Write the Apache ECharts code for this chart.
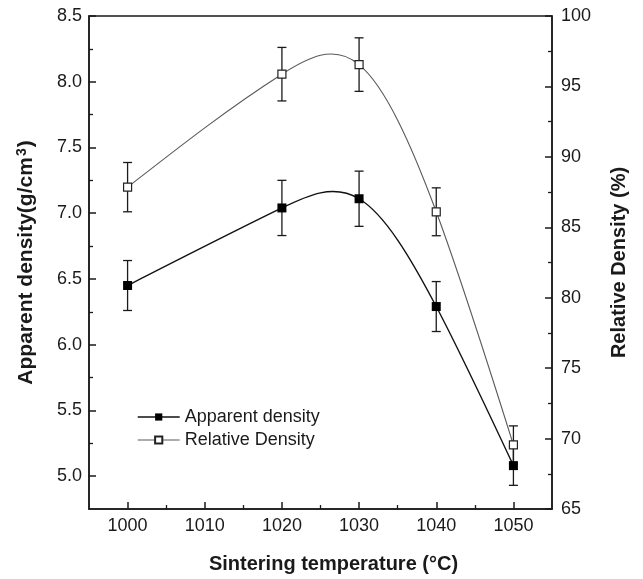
<!DOCTYPE html>
<html>
<head>
<meta charset="utf-8">
<script src="https://cdn.jsdelivr.net/npm/echarts@6/dist/echarts.min.js"></script>
<style>html,body{margin:0;padding:0;background:#fff;}#c{width:643px;height:579px;}</style>
</head>
<body>
<div id="c"></div>
<script>
// ---- data ----
var temps = [1000, 1020, 1030, 1040, 1050];
var apparent = [6.45, 7.04, 7.11, 6.29, 5.08];
var apparentErr = [0.19, 0.21, 0.21, 0.19, 0.15];
var relative = [87.85, 95.87, 96.55, 86.1, 69.55];
var relativeErr = [1.75, 1.9, 1.9, 1.7, 1.35];
var xTicks = [1000, 1010, 1020, 1030, 1040, 1050];
var xMinor = [1005, 1015, 1025, 1035, 1045];
var leftTicks = [5.0, 5.5, 6.0, 6.5, 7.0, 7.5, 8.0, 8.5];
var leftMinor = [5.25, 5.75, 6.25, 6.75, 7.25, 7.75, 8.25];
var rightTicks = [65, 70, 75, 80, 85, 90, 95, 100];
var rightMinor = [67.5, 72.5, 77.5, 82.5, 87.5, 92.5, 97.5];

var FONT = '"Liberation Sans", Arial, Helvetica, sans-serif';
var INK = '#1a1a1a';

function pairs(xs, ys) { return xs.map(function (x, i) { return [x, ys[i]]; }); }
function errData(xs, ys, es) { return xs.map(function (x, i) { return [x, ys[i] - es[i], ys[i] + es[i]]; }); }

// natural cubic spline slopes at the data nodes (used only to shape the drawn curve)
function splineSlopes(xs, ys) {
  var n = xs.length, h = [], d = [], i;
  for (i = 0; i < n - 1; i++) { h[i] = xs[i + 1] - xs[i]; d[i] = (ys[i + 1] - ys[i]) / h[i]; }
  var M = new Array(n).fill(0);
  var a = [], b = [], c = [], r = [];
  for (i = 1; i < n - 1; i++) {
    a[i] = h[i - 1]; b[i] = 2 * (h[i - 1] + h[i]); c[i] = h[i]; r[i] = 6 * (d[i] - d[i - 1]);
  }
  // Thomas algorithm
  var cp = [], rp = [];
  for (i = 1; i < n - 1; i++) {
    var den = b[i] - (i > 1 ? a[i] * cp[i - 1] : 0);
    cp[i] = c[i] / den;
    rp[i] = (r[i] - (i > 1 ? a[i] * rp[i - 1] : 0)) / den;
  }
  for (i = n - 2; i >= 1; i--) { M[i] = rp[i] - (i < n - 2 ? cp[i] * M[i + 1] : 0); }
  var m = [];
  for (i = 0; i < n - 1; i++) { m[i] = d[i] - h[i] * (2 * M[i] + M[i + 1]) / 6; }
  m[n - 1] = d[n - 2] + h[n - 2] * (M[n - 2] + 2 * M[n - 1]) / 6;
  return m;
}

function curveRenderer(xs, ys, color, width) {
  var m = splineSlopes(xs, ys);
  return function (params, api) {
    var i = params.dataIndex;
    if (i >= xs.length - 1) return null;
    var h = xs[i + 1] - xs[i];
    var p0 = api.coord([xs[i], ys[i]]);
    var p3 = api.coord([xs[i + 1], ys[i + 1]]);
    var c1 = api.coord([xs[i] + h / 3, ys[i] + m[i] * h / 3]);
    var c2 = api.coord([xs[i + 1] - h / 3, ys[i + 1] - m[i + 1] * h / 3]);
    return {
      type: 'bezierCurve',
      shape: { x1: p0[0], y1: p0[1], x2: p3[0], y2: p3[1], cpx1: c1[0], cpy1: c1[1], cpx2: c2[0], cpy2: c2[1] },
      style: { stroke: color, fill: null, lineWidth: width }
    };
  };
}

function errRender(params, api) {
  var x = api.value(0);
  var lo = api.coord([x, api.value(1)]);
  var hi = api.coord([x, api.value(2)]);
  var w = 4.5;
  var st = { stroke: INK, lineWidth: 1.3 };
  return {
    type: 'group',
    children: [
      { type: 'line', shape: { x1: lo[0], y1: lo[1], x2: hi[0], y2: hi[1] }, style: st },
      { type: 'line', shape: { x1: lo[0] - w, y1: lo[1], x2: lo[0] + w, y2: lo[1] }, style: st },
      { type: 'line', shape: { x1: hi[0] - w, y1: hi[1], x2: hi[0] + w, y2: hi[1] }, style: st }
    ]
  };
}

var label = { fontFamily: FONT, fontSize: 18, color: INK };
var nameStyle = { fontFamily: FONT, fontSize: 20, fontWeight: 'bold', color: INK };
var COL_A = '#111', COL_R = '#5a5a5a';

var chart = echarts.init(document.getElementById('c'), null, { renderer: 'canvas' });
chart.setOption({
  animation: false,
  backgroundColor: '#fff',
  grid: { left: 89, right: 91, top: 16, bottom: 69, show: true, borderColor: INK, borderWidth: 1.5, backgroundColor: 'transparent', containLabel: false },
  legend: {
    orient: 'vertical', left: 132, top: 403, itemGap: 5, itemWidth: 42, itemHeight: 9,
    textStyle: { fontFamily: FONT, fontSize: 18, color: INK },
    data: [
      { name: 'Apparent density', lineStyle: { color: COL_A, width: 1.4, opacity: 1 } },
      { name: 'Relative Density', lineStyle: { color: COL_R, width: 1.2, opacity: 1 } }
    ]
  },
  xAxis: [
    {
      type: 'value', min: 995, max: 1055, position: 'bottom',
      name: 'Sintering temperature (°C)', nameLocation: 'middle', nameGap: 45, nameTextStyle: Object.assign({ padding: [0, 0, 0, 26] }, nameStyle),
      axisLine: { show: true, lineStyle: { color: INK, width: 1.5 } },
      axisTick: { show: true, inside: true, length: 7, customValues: xTicks, lineStyle: { color: INK, width: 1.5 } },
      axisLabel: Object.assign({ customValues: xTicks, margin: 8, formatter: function (v) { return String(v); } }, label),
      splitLine: { show: false }
    },
    {
      type: 'value', min: 995, max: 1055, position: 'bottom',
      axisLine: { show: false },
      axisTick: { show: true, inside: true, length: 4, customValues: xMinor, lineStyle: { color: INK, width: 1.3 } },
      axisLabel: { show: false }, splitLine: { show: false }
    }
  ],
  yAxis: [
    {
      type: 'value', min: 4.75, max: 8.5, position: 'left',
      name: 'Apparent density(g/cm{s|3})', nameLocation: 'middle', nameGap: 52, nameRotate: 90,
      nameTextStyle: Object.assign({ fontSize: 21, rich: { s: { fontFamily: FONT, fontSize: 14, fontWeight: 'bold', color: INK, verticalAlign: 'top', lineHeight: 22, padding: [0, 1, 0, 1] } } }, { fontFamily: FONT, fontWeight: 'bold', color: INK }),
      axisLine: { show: true, lineStyle: { color: INK, width: 1.5 } },
      axisTick: { show: true, inside: true, length: 7, customValues: leftTicks, lineStyle: { color: INK, width: 1.5 } },
      axisLabel: Object.assign({ customValues: leftTicks, margin: 7, formatter: function (v) { return v.toFixed(1); } }, label),
      splitLine: { show: false }
    },
    {
      type: 'value', min: 4.75, max: 8.5, position: 'left',
      axisLine: { show: false },
      axisTick: { show: true, inside: true, length: 4, customValues: leftMinor, lineStyle: { color: INK, width: 1.3 } },
      axisLabel: { show: false }, splitLine: { show: false }
    },
    {
      type: 'value', min: 65, max: 100, position: 'right',
      name: 'Relative Density (%)', nameLocation: 'middle', nameGap: 57, nameRotate: 90, nameTextStyle: nameStyle,
      axisLine: { show: true, lineStyle: { color: INK, width: 1.5 } },
      axisTick: { show: true, inside: true, length: 7, customValues: rightTicks, lineStyle: { color: INK, width: 1.5 } },
      axisLabel: Object.assign({ customValues: rightTicks, margin: 9 }, label),
      splitLine: { show: false }
    },
    {
      type: 'value', min: 65, max: 100, position: 'right',
      axisLine: { show: false },
      axisTick: { show: true, inside: true, length: 4, customValues: rightMinor, lineStyle: { color: INK, width: 1.3 } },
      axisLabel: { show: false }, splitLine: { show: false }
    }
  ],
  series: [
    {
      type: 'custom', name: 'curveA', xAxisIndex: 0, yAxisIndex: 0,
      renderItem: curveRenderer(temps, apparent, COL_A, 1.4),
      data: pairs(temps, apparent), z: 3, silent: true
    },
    {
      type: 'custom', name: 'curveR', xAxisIndex: 0, yAxisIndex: 2,
      renderItem: curveRenderer(temps, relative, COL_R, 1.1),
      data: pairs(temps, relative), z: 3, silent: true
    },
    {
      type: 'custom', name: 'errA', xAxisIndex: 0, yAxisIndex: 0, renderItem: errRender,
      data: errData(temps, apparent, apparentErr), z: 2, silent: true
    },
    {
      type: 'custom', name: 'errR', xAxisIndex: 0, yAxisIndex: 2, renderItem: errRender,
      data: errData(temps, relative, relativeErr), z: 2, silent: true
    },
    {
      type: 'line', name: 'Apparent density', xAxisIndex: 0, yAxisIndex: 0,
      data: pairs(temps, apparent),
      symbol: 'rect', symbolSize: 9,
      lineStyle: { color: COL_A, width: 1.4, opacity: 0 },
      itemStyle: { color: '#000', borderColor: '#000', borderWidth: 0 },
      z: 5
    },
    {
      type: 'line', name: 'Relative Density', xAxisIndex: 0, yAxisIndex: 2,
      data: pairs(temps, relative),
      symbol: 'rect', symbolSize: 8,
      lineStyle: { color: COL_R, width: 1.1, opacity: 0 },
      itemStyle: { color: '#fff', borderColor: '#222', borderWidth: 1.2 },
      z: 5
    }
  ]
});
</script>
</body>
</html>
